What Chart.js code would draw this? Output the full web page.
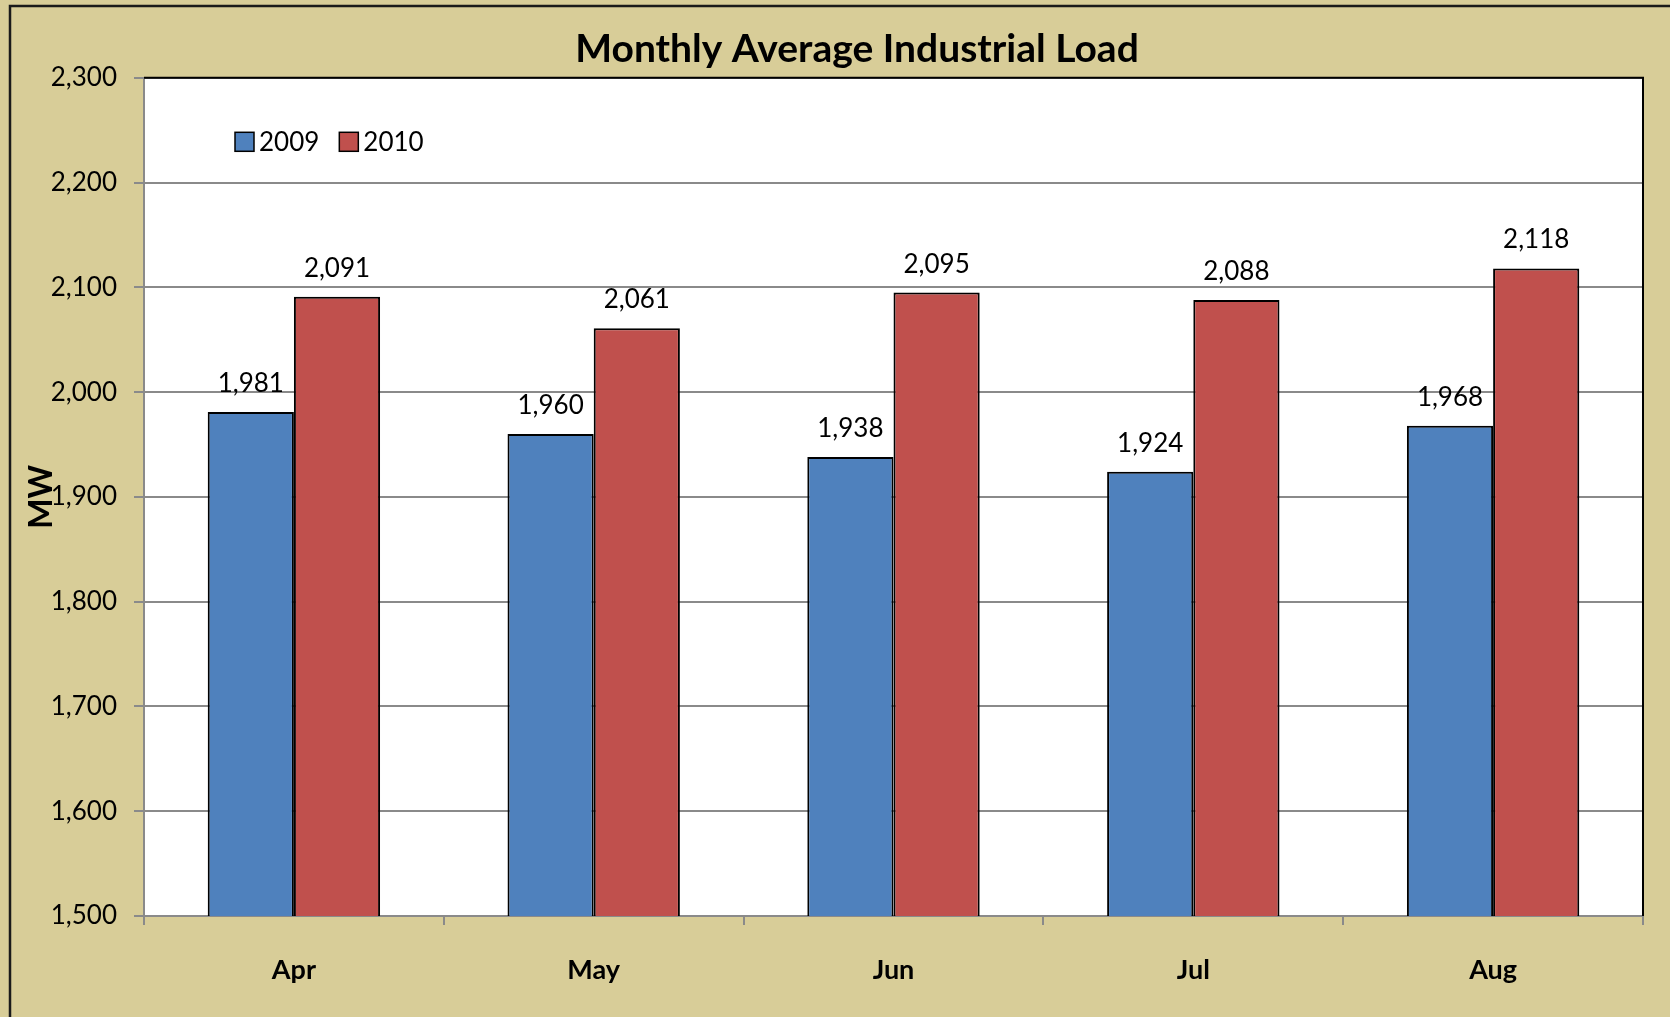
<!DOCTYPE html>
<html>
<head>
<meta charset="utf-8">
<title>Monthly Average Industrial Load</title>
<script src="https://cdn.jsdelivr.net/npm/chart.js@4.4.1/dist/chart.umd.min.js"></script>
<style>
    html, body { margin: 0; padding: 0; background: #d8cd98; }
    canvas { display: block; }
</style>
</head>
<body>
<canvas id="load-chart" width="1670" height="1017"></canvas>
<script>

// Chart values.
var months = ["Apr", "May", "Jun", "Jul", "Aug"];
var series_labels = ["2009", "2010"];
var load_2009 = [1981, 1960, 1938, 1924, 1968];
var load_2010 = [2091, 2061, 2095, 2088, 2118];
var y_ticks = [1500, 1600, 1700, 1800, 1900, 2000, 2100, 2200, 2300];

var FONT = "Lato, 'Open Sans', sans-serif";
var TAN = "#d8cd98";
var GRID = "#8a8a8a";


/**
* Format a number with thousands separators.
*/
function formatNumber(value) {
    return(new Intl.NumberFormat("en-US").format(value));
} // End of formatNumber()


/**
* Paint the tan frame and the white plot area before anything else.
*/
var framePlugin = {
    id: "frame",
    afterLayout: function(chart) {
        // The title sits a little right of the canvas centre in the original.
        chart.titleBlock.left = 71;
    },
    beforeDraw: function(chart) {
        var ctx = chart.ctx;
        var area = chart.chartArea;
        ctx.save();
        ctx.fillStyle = TAN;
        ctx.fillRect(0, 0, chart.width, chart.height);

        // Outer border, only the left and top edges show in the picture.
        ctx.strokeStyle = "#1a1a1a";
        ctx.lineWidth = 2.5;
        ctx.beginPath();
        ctx.moveTo(10, chart.height);
        ctx.lineTo(10, 6);
        ctx.lineTo(chart.width, 6);
        ctx.stroke();

        ctx.fillStyle = "#ffffff";
        ctx.fillRect(area.left, area.top, area.right - area.left, area.bottom - area.top);
        ctx.restore();
    },
    afterDraw: function(chart) {
        var ctx = chart.ctx;
        var area = chart.chartArea;
        ctx.save();
        // Black edge on the top and right of the plot area.
        ctx.strokeStyle = "#000000";
        ctx.lineWidth = 2;
        ctx.beginPath();
        ctx.moveTo(area.left, area.top);
        ctx.lineTo(area.right, area.top);
        ctx.lineTo(area.right, area.bottom);
        ctx.stroke();
        ctx.restore();
    }
};


/**
* Write the value above each bar.
*/
var valueLabelPlugin = {
    id: "valueLabels",
    afterDatasetsDraw: function(chart) {
        var ctx = chart.ctx;
        ctx.save();
        ctx.font = "26px " + FONT;
        ctx.fillStyle = "#000000";
        ctx.textAlign = "center";
        ctx.textBaseline = "alphabetic";
        chart.data.datasets.forEach(function(dataset, i) {
            var meta = chart.getDatasetMeta(i);
            meta.data.forEach(function(bar, j) {
                ctx.fillText(formatNumber(dataset.data[j]), bar.x, bar.y - 20);
            });
        });
        ctx.restore();
    }
};


/**
* Legend drawn inside the plot area, near the top left corner.
*/
var insideLegendPlugin = {
    id: "insideLegend",
    afterDraw: function(chart) {
        var ctx = chart.ctx;
        var area = chart.chartArea;
        var x = area.left + 91;
        var y = area.top + 64;
        var box = 19;
        ctx.save();
        ctx.font = "26px " + FONT;
        ctx.textBaseline = "middle";
        ctx.textAlign = "left";
        chart.data.datasets.forEach(function(dataset) {
            ctx.fillStyle = dataset.backgroundColor;
            ctx.fillRect(x, y - box / 2, box, box);
            ctx.strokeStyle = "#000000";
            ctx.lineWidth = 1.5;
            ctx.strokeRect(x, y - box / 2, box, box);
            ctx.fillStyle = "#000000";
            ctx.fillText(dataset.label, x + box + 5, y + 1);
            x += box + 5 + ctx.measureText(dataset.label).width + 20;
        });
        ctx.restore();
    }
};


var data = {
    labels: months,
    datasets: [
        {
            label: series_labels[0],
            data: load_2009,
            backgroundColor: "#4f81bd",
            borderColor: "#000000",
            borderWidth: 2,
        },
        {
            label: series_labels[1],
            data: load_2010,
            backgroundColor: "#c0504d",
            borderColor: "#000000",
            borderWidth: 2,
        },
    ],
};

var options = {
    responsive: false,
    animation: false,
    devicePixelRatio: 1,
    layout: {
        padding: { left: 10, right: 27, top: 0, bottom: 0 },
    },
    datasets: {
        bar: {
            categoryPercentage: 0.575,
            barPercentage: 1.0,
        },
    },
    plugins: {
        legend: { display: false },
        tooltip: { enabled: false },
        title: {
            display: true,
            text: "Monthly Average Industrial Load",
            color: "#000000",
            font: { family: FONT, size: 39, weight: "bold" },
            padding: { top: 26, bottom: 5 },
        },
    },
    scales: {
        x: {
            offset: true,
            grid: {
                offset: true,
                drawOnChartArea: false,
                drawTicks: true,
                tickLength: 9,
                color: GRID,
                lineWidth: 2,
            },
            border: { color: GRID, width: 2 },
            ticks: {
                color: "#000000",
                font: { family: FONT, size: 27, weight: "bold" },
                padding: 29,
            },
            afterFit: function(scale) {
                scale.height = 101;
            },
        },
        y: {
            min: y_ticks[0],
            max: y_ticks[y_ticks.length - 1],
            grid: {
                color: GRID,
                lineWidth: 2,
                tickLength: 10,
            },
            border: { color: GRID, width: 2 },
            ticks: {
                stepSize: y_ticks[1] - y_ticks[0],
                color: "#000000",
                font: { family: FONT, size: 26 },
                padding: 17,
                callback: function(value) {
                    return(formatNumber(value));
                },
            },
            title: {
                display: true,
                text: "MW",
                color: "#000000",
                font: { family: FONT, size: 32, weight: "bold" },
                padding: { top: 12, bottom: 0 },
            },
            afterFit: function(scale) {
                scale.width = 134;
            },
        },
    },
};

var canvas = document.getElementById("load-chart").getContext("2d");
window.chart = new Chart(canvas, {
    type: "bar",
    data: data,
    options: options,
    plugins: [framePlugin, valueLabelPlugin, insideLegendPlugin],
});

</script>
</body>
</html>
